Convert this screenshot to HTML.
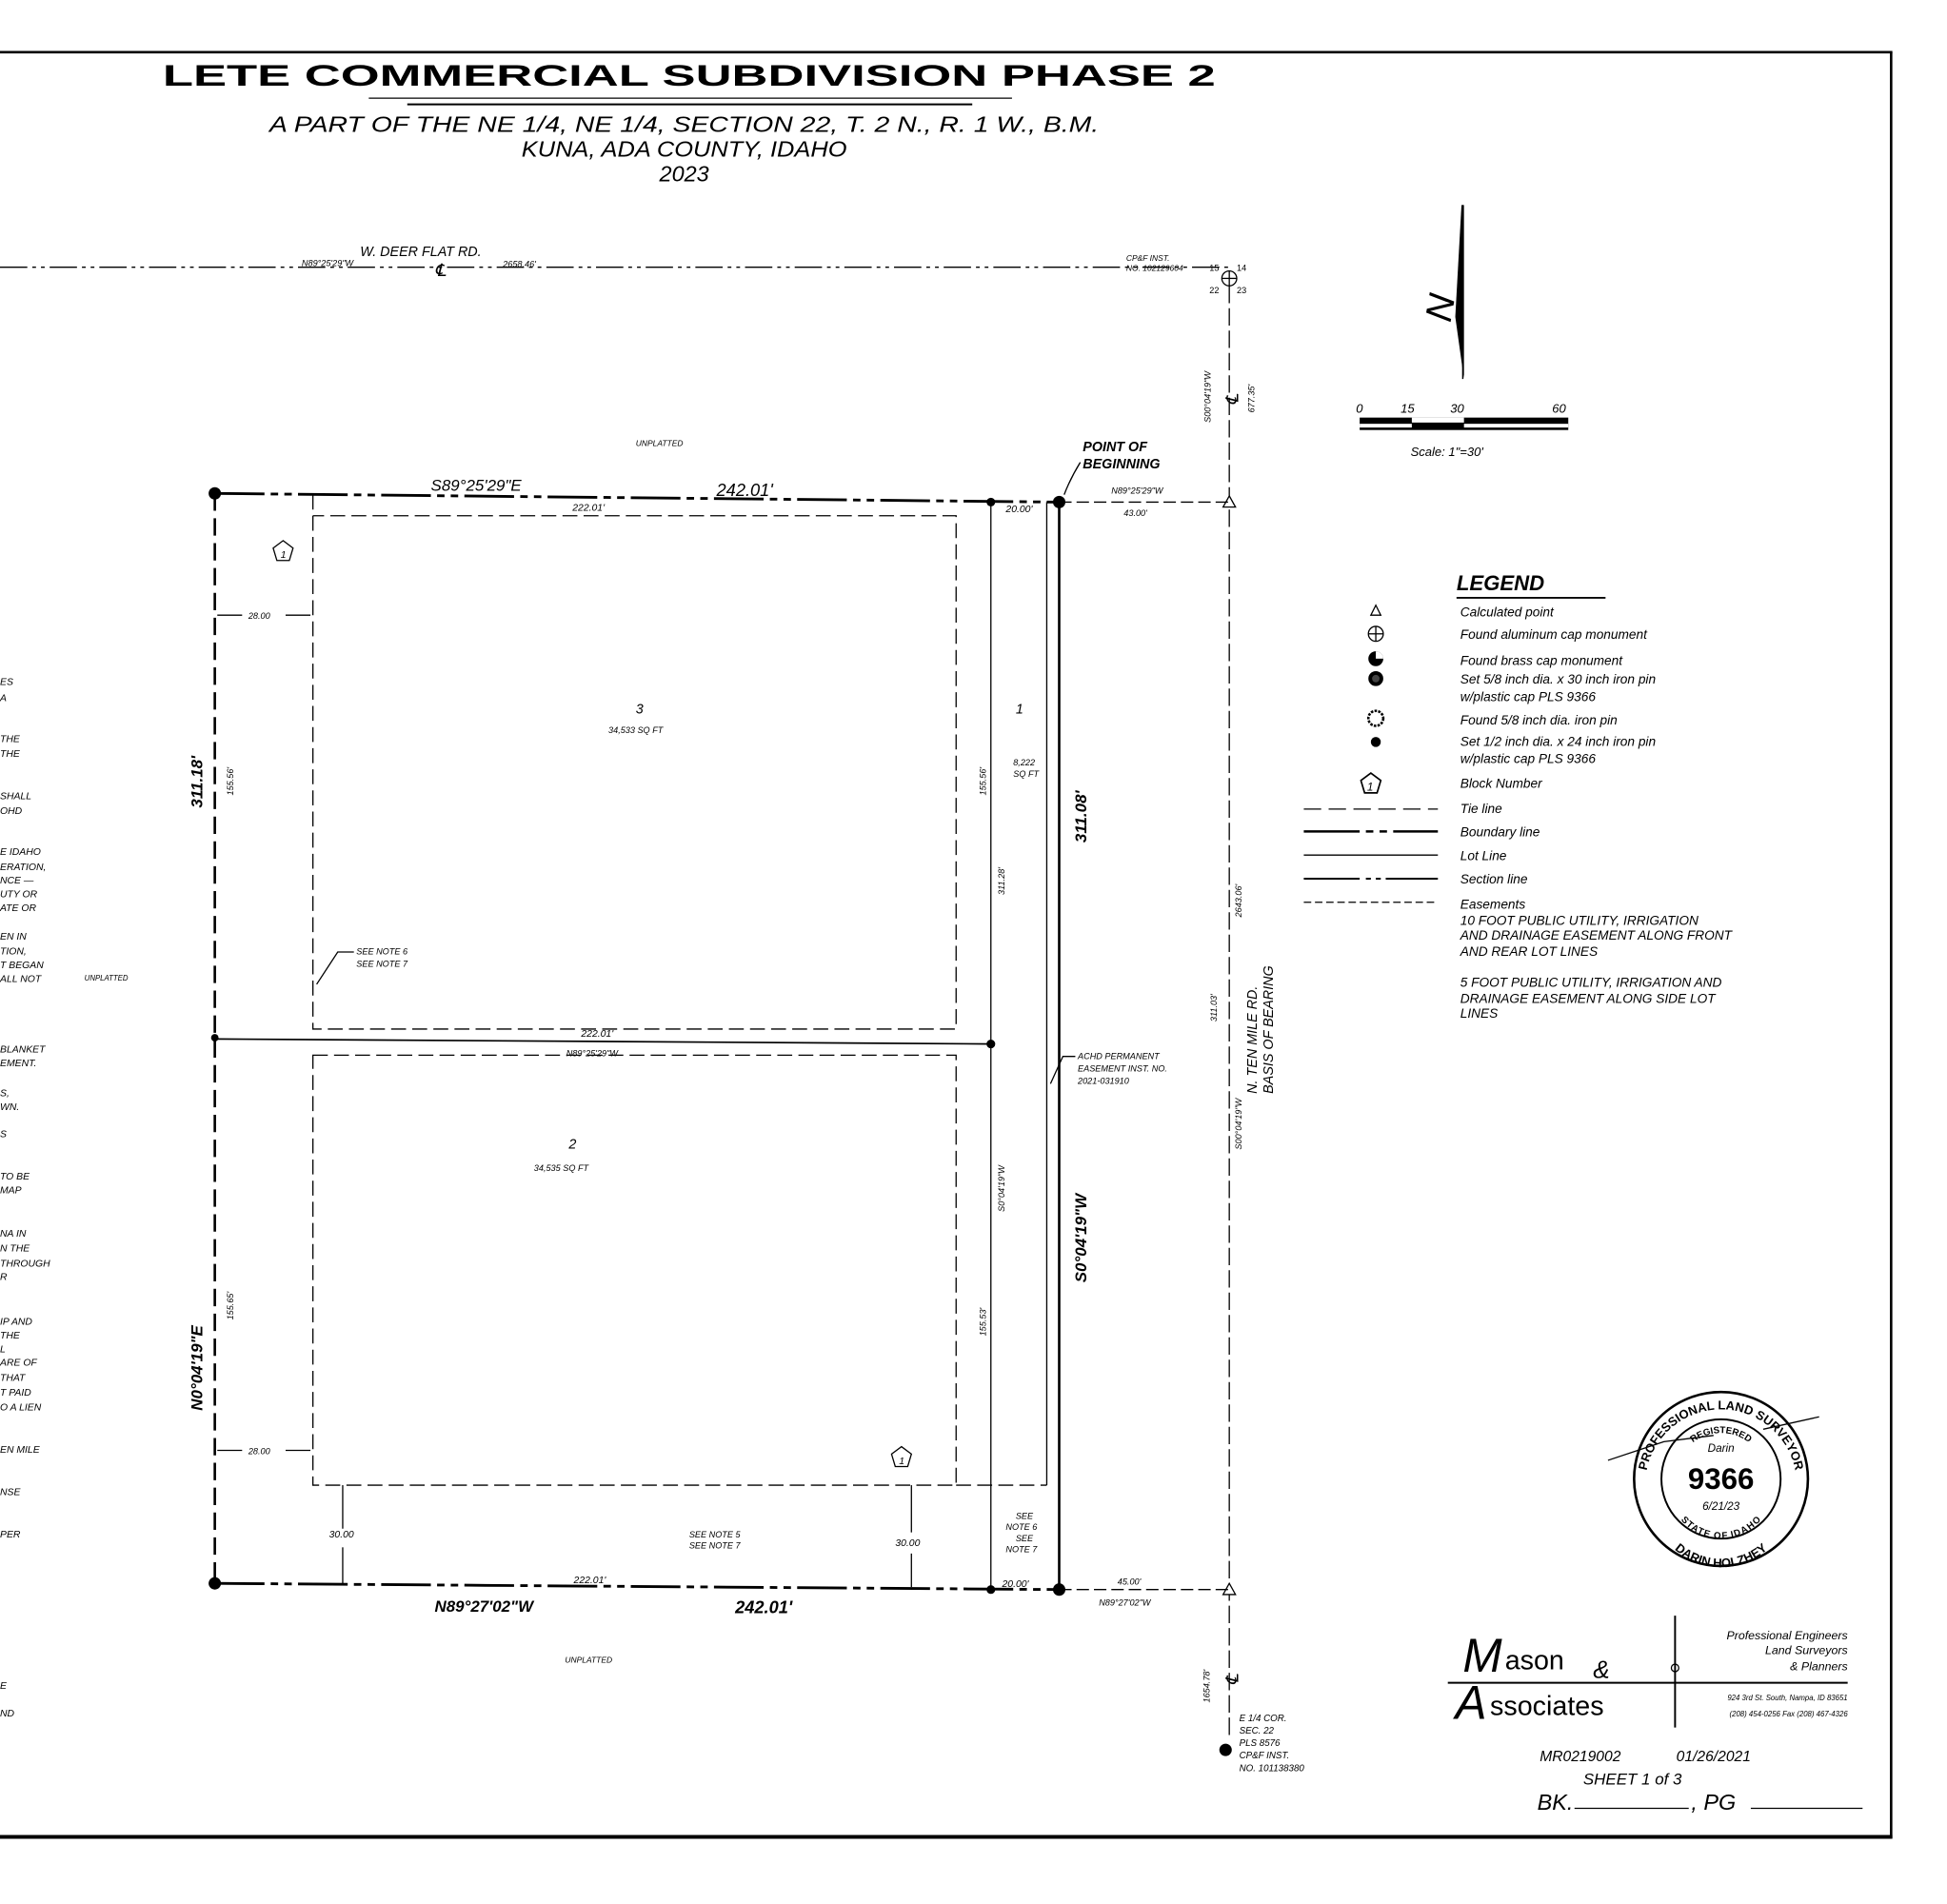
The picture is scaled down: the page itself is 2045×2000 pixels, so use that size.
<!DOCTYPE html>
<html><head><meta charset="utf-8"><style>
html,body{margin:0;padding:0;background:#fff;}
svg{display:block;}
text{font-family:"Liberation Sans",sans-serif;fill:#000;}
.i{font-style:italic;}
</style></head><body>
<svg width="2045" height="2000" viewBox="0 0 1568 1532" preserveAspectRatio="none" xmlns="http://www.w3.org/2000/svg">
<rect width="1600" height="1600" fill="#fff"/>
<!-- border -->
<line x1="0" y1="42" x2="1524" y2="42" stroke="#000" stroke-width="2"/>
<line x1="1523" y1="42" x2="1523" y2="1479" stroke="#000" stroke-width="2"/>
<line x1="0" y1="1478" x2="1524" y2="1478" stroke="#000" stroke-width="3"/>
<!-- title -->
<text x="555" y="69" font-size="24" font-weight="bold" text-anchor="middle" textLength="848" lengthAdjust="spacingAndGlyphs">LETE COMMERCIAL SUBDIVISION PHASE 2</text>
<line x1="297" y1="79" x2="815" y2="79" stroke="#000" stroke-width="1"/>
<line x1="328" y1="84" x2="783" y2="84" stroke="#000" stroke-width="1.5"/>
<g class="i" font-size="18" text-anchor="middle">
<text x="551" y="106" class="i" textLength="668" lengthAdjust="spacingAndGlyphs">A PART OF THE NE 1/4, NE 1/4, SECTION 22, T. 2 N., R. 1 W., B.M.</text>
<text x="551" y="126" class="i" textLength="262" lengthAdjust="spacingAndGlyphs">KUNA, ADA COUNTY, IDAHO</text>
<text x="551" y="146" class="i">2023</text>
</g>
<!-- road / section lines -->
<line x1="0" y1="215" x2="990" y2="215" stroke="#000" stroke-width="1" stroke-dasharray="22,4,3,4,3,4"/>
<text x="290" y="206" font-size="11" class="i">W. DEER FLAT RD.</text>
<text x="243" y="214" font-size="7" class="i">N89°25'29"W</text>
<text x="405" y="215" font-size="7" class="i">2658.46'</text>
<text x="350" y="222" font-size="14" class="i">℄</text>
<text x="907" y="210" font-size="6.5" class="i">CP&amp;F INST.</text>
<text x="907" y="218" font-size="6.5" class="i">NO. 102129604</text>
<text x="974" y="218" font-size="7">15</text><text x="996" y="218" font-size="7">14</text>
<text x="974" y="236" font-size="7">22</text><text x="996" y="236" font-size="7">23</text>
<circle cx="990" cy="224" r="6" fill="none" stroke="#000"/>
<line x1="984" y1="224" x2="996" y2="224" stroke="#000"/><line x1="990" y1="218" x2="990" y2="230" stroke="#000"/>
<line x1="990" y1="230" x2="990" y2="1400" stroke="#000" stroke-width="1" stroke-dasharray="14,4"/>
<text transform="translate(975,340) rotate(-90)" font-size="7" class="i">S00°04'19"W</text>
<text transform="translate(1010,332) rotate(-90)" font-size="7" class="i">677.35'</text>
<text transform="translate(997,326) rotate(-90)" font-size="14" class="i">℄</text>
<text transform="translate(1000,738) rotate(-90)" font-size="7" class="i">2643.06'</text>
<text transform="translate(980,822) rotate(-90)" font-size="7" class="i">311.03'</text>
<text transform="translate(1000,925) rotate(-90)" font-size="7" class="i">S00°04'19"W</text>
<text transform="translate(1012,880) rotate(-90)" font-size="11" class="i">N. TEN MILE RD.</text>
<text transform="translate(1025,880) rotate(-90)" font-size="11" class="i">BASIS OF BEARING</text>
<text transform="translate(974,1370) rotate(-90)" font-size="7" class="i">1654.78'</text>
<text transform="translate(997,1356) rotate(-90)" font-size="14" class="i">℄</text>
<!-- triangles -->
<polygon points="990,399 985,408 995,408" fill="#fff" stroke="#000"/>
<polygon points="990,1274 985,1283 995,1283" fill="#fff" stroke="#000"/>
<line x1="853" y1="404" x2="990" y2="404" stroke="#000" stroke-dasharray="10,4"/>
<line x1="853" y1="1279" x2="990" y2="1279" stroke="#000" stroke-dasharray="10,4"/>
<text x="895" y="397" font-size="7" class="i">N89°25'29"W</text>
<text x="905" y="415" font-size="7" class="i">43.00'</text>
<text x="900" y="1275" font-size="7" class="i">45.00'</text>
<text x="885" y="1292" font-size="7" class="i">N89°27'02"W</text>
<!-- boundary -->
<line x1="173" y1="397" x2="853" y2="404" stroke="#000" stroke-width="2.2" stroke-dasharray="40,5,6,5,6,5"/>
<line x1="173" y1="1274" x2="853" y2="1279" stroke="#000" stroke-width="2.2" stroke-dasharray="40,5,6,5,6,5"/>
<line x1="173" y1="397" x2="173" y2="1274" stroke="#000" stroke-width="2" stroke-dasharray="14,6"/>
<line x1="853" y1="404" x2="853" y2="1279" stroke="#000" stroke-width="2"/>
<line x1="798" y1="404" x2="798" y2="1279" stroke="#000" stroke-width="1"/>
<line x1="843" y1="404" x2="843" y2="1195" stroke="#000" stroke-width="1"/>
<line x1="173" y1="836" x2="798" y2="840" stroke="#000" stroke-width="1.3"/>
<!-- easements -->
<g fill="none" stroke="#000" stroke-width="1" stroke-dasharray="12,5">
<path d="M252,398 V828 H770 V415 H252"/>
<path d="M252,849 H770 V1195 H252 Z"/>
<line x1="770" y1="1195" x2="843" y2="1195"/>
</g>
<!-- points -->
<g fill="#000">
<circle cx="173" cy="397" r="5"/><circle cx="173" cy="1274" r="5"/>
<circle cx="853" cy="404" r="5"/><circle cx="853" cy="1279" r="5"/>
<circle cx="798" cy="404" r="3.5"/><circle cx="798" cy="840" r="3.5"/><circle cx="798" cy="1279" r="3.5"/>
<circle cx="173" cy="835" r="3"/>
</g>
<!-- labels -->
<text x="347" y="395" font-size="13" class="i">S89°25'29"E</text>
<text x="577" y="399" font-size="14" class="i">242.01'</text>
<text x="461" y="411" font-size="8" class="i">222.01'</text>
<text x="810" y="412" font-size="8" class="i">20.00'</text>
<text x="872" y="363" font-size="11" font-weight="bold" class="i">POINT OF</text>
<text x="872" y="377" font-size="11" font-weight="bold" class="i">BEGINNING</text>
<path d="M870,372 Q862,385 857,398" fill="none" stroke="#000"/>
<text x="512" y="359" font-size="6.5" class="i">UNPLATTED</text>
<polygon points="228,435 236,441 233,451 223,451 220,441" fill="none" stroke="#000"/>
<text x="226" y="449" font-size="8" class="i">1</text>
<polygon points="726,1164 734,1170 731,1180 721,1180 718,1170" fill="none" stroke="#000"/>
<text x="724" y="1178" font-size="8" class="i">1</text>
<text x="200" y="498" font-size="7" class="i">28.00</text>
<line x1="175" y1="495" x2="195" y2="495" stroke="#000"/><line x1="230" y1="495" x2="250" y2="495" stroke="#000"/>
<text x="200" y="1170" font-size="7" class="i">28.00</text>
<line x1="175" y1="1167" x2="195" y2="1167" stroke="#000"/><line x1="230" y1="1167" x2="250" y2="1167" stroke="#000"/>
<text transform="translate(163,650) rotate(-90)" font-size="13" font-weight="bold" class="i">311.18'</text>
<text transform="translate(188,640) rotate(-90)" font-size="7" class="i">155.56'</text>
<text transform="translate(163,1135) rotate(-90)" font-size="13" font-weight="bold" class="i">N0°04'19"E</text>
<text transform="translate(188,1062) rotate(-90)" font-size="7" class="i">155.65'</text>
<text x="512" y="574" font-size="11" class="i">3</text>
<text x="490" y="590" font-size="7" class="i">34,533 SQ FT</text>
<text x="458" y="924" font-size="11" class="i">2</text>
<text x="430" y="942" font-size="7" class="i">34,535 SQ FT</text>
<text x="818" y="574" font-size="11" class="i">1</text>
<text x="816" y="616" font-size="7" class="i">8,222</text>
<text x="816" y="625" font-size="7" class="i">SQ FT</text>
<text transform="translate(794,640) rotate(-90)" font-size="7" class="i">155.56'</text>
<text transform="translate(809,720) rotate(-90)" font-size="7" class="i">311.28'</text>
<text transform="translate(809,975) rotate(-90)" font-size="7" class="i">S0°04'19"W</text>
<text transform="translate(794,1075) rotate(-90)" font-size="7" class="i">155.53'</text>
<text transform="translate(875,678) rotate(-90)" font-size="13" font-weight="bold" class="i">311.08'</text>
<text transform="translate(875,1032) rotate(-90)" font-size="13" font-weight="bold" class="i">S0°04'19"W</text>
<text x="468" y="834" font-size="8" class="i">222.01'</text>
<text x="456" y="850" font-size="7" class="i">N89°25'29"W</text>
<text x="287" y="768" font-size="7" class="i">SEE NOTE 6</text>
<text x="287" y="778" font-size="7" class="i">SEE NOTE 7</text>
<path d="M285,766 L272,766 L255,792" fill="none" stroke="#000"/>
<text x="68" y="789" font-size="6" class="i">UNPLATTED</text>
<text x="868" y="852" font-size="7" class="i">ACHD PERMANENT</text>
<text x="868" y="862" font-size="7" class="i">EASEMENT INST. NO.</text>
<text x="868" y="872" font-size="7" class="i">2021-031910</text>
<path d="M866,850 L856,850 L846,872" fill="none" stroke="#000"/>
<text x="265" y="1237" font-size="8" class="i">30.00</text>
<line x1="276" y1="1195" x2="276" y2="1230" stroke="#000"/><line x1="276" y1="1245" x2="276" y2="1275" stroke="#000"/>
<text x="721" y="1244" font-size="8" class="i">30.00</text>
<line x1="734" y1="1195" x2="734" y2="1233" stroke="#000"/><line x1="734" y1="1250" x2="734" y2="1277" stroke="#000"/>
<text x="555" y="1237" font-size="7" class="i">SEE NOTE 5</text>
<text x="555" y="1246" font-size="7" class="i">SEE NOTE 7</text>
<text x="818" y="1222" font-size="7" class="i">SEE</text>
<text x="810" y="1231" font-size="7" class="i">NOTE 6</text>
<text x="818" y="1240" font-size="7" class="i">SEE</text>
<text x="810" y="1249" font-size="7" class="i">NOTE 7</text>
<text x="462" y="1274" font-size="8" class="i">222.01'</text>
<text x="807" y="1277" font-size="8" class="i">20.00'</text>
<text x="350" y="1297" font-size="13" font-weight="bold" class="i">N89°27'02"W</text>
<text x="592" y="1298" font-size="14" font-weight="bold" class="i">242.01'</text>
<text x="455" y="1338" font-size="6.5" class="i">UNPLATTED</text>
<circle cx="987" cy="1408" r="5" fill="#000"/>
<g font-size="7.5" class="i"><text x="998" y="1385">E 1/4 COR.</text><text x="998" y="1395">SEC. 22</text><text x="998" y="1405">PLS 8576</text><text x="998" y="1415">CP&amp;F INST.</text><text x="998" y="1425">NO. 101138380</text></g>
<!-- left edge note fragments -->
<g font-size="8" class="i">
<text x="0" y="551">ES</text><text x="0" y="564">A</text>
<text x="0" y="597">THE</text><text x="0" y="609">THE</text>
<text x="0" y="643">SHALL</text><text x="0" y="655">OHD</text>
<text x="0" y="688">E IDAHO</text><text x="0" y="700">ERATION,</text><text x="0" y="711">NCE —</text><text x="0" y="722">UTY OR</text><text x="0" y="733">ATE OR</text>
<text x="0" y="756">EN IN</text><text x="0" y="768">TION,</text><text x="0" y="779">T BEGAN</text><text x="0" y="790">ALL NOT</text>
<text x="0" y="847">BLANKET</text><text x="0" y="858">EMENT.</text>
<text x="0" y="882">S,</text><text x="0" y="893">WN.</text>
<text x="0" y="915">S</text>
<text x="0" y="949">TO BE</text><text x="0" y="960">MAP</text>
<text x="0" y="995">NA IN</text><text x="0" y="1007">N THE</text><text x="0" y="1019">THROUGH</text><text x="0" y="1030">R</text>
<text x="0" y="1066">IP AND</text><text x="0" y="1077">THE</text><text x="0" y="1088">L</text><text x="0" y="1099">ARE OF</text><text x="0" y="1111">THAT</text><text x="0" y="1123">T PAID</text><text x="0" y="1135">O A LIEN</text>
<text x="0" y="1169">EN MILE</text>
<text x="0" y="1203">NSE</text>
<text x="0" y="1237">PER</text>
<text x="0" y="1359">E</text><text x="0" y="1381">ND</text>
</g>
<!-- north arrow -->
<polygon points="1177,165 1179,165 1179,305 1172,255" fill="#000"/>
<line x1="1178" y1="165" x2="1178" y2="305" stroke="#000"/>
<text transform="translate(1168,260) rotate(-80)" font-size="30" class="i" font-family="Liberation Serif">N</text>
<!-- scale bar -->
<text x="1092" y="332" font-size="10" class="i">0</text>
<text x="1128" y="332" font-size="10" class="i">15</text>
<text x="1168" y="332" font-size="10" class="i">30</text>
<text x="1250" y="332" font-size="10" class="i">60</text>
<rect x="1095" y="336" width="168" height="10" fill="#000"/>
<rect x="1137" y="336" width="42" height="4" fill="#fff"/>
<rect x="1095" y="341" width="42" height="3" fill="#fff"/>
<rect x="1179" y="341" width="84" height="3" fill="#fff"/>
<text x="1136" y="367" font-size="10" class="i">Scale: 1"=30'</text>
<!-- legend -->
<text x="1173" y="475" font-size="17" font-weight="bold" class="i">LEGEND</text>
<line x1="1173" y1="481" x2="1293" y2="481" stroke="#000" stroke-width="1.5"/>
<polygon points="1108,487 1104,495 1112,495" fill="none" stroke="#000"/>
<circle cx="1108" cy="510" r="6" fill="none" stroke="#000"/><line x1="1102" y1="510" x2="1114" y2="510" stroke="#000"/><line x1="1108" y1="504" x2="1108" y2="516" stroke="#000"/>
<circle cx="1108" cy="530" r="6" fill="#000"/><path d="M1108,530 L1114,530 A6,6 0 0 0 1108,524 Z" fill="#fff"/>
<circle cx="1108" cy="546" r="6" fill="#000"/><circle cx="1108" cy="546" r="3" fill="#444"/>
<circle cx="1108" cy="578" r="6" fill="none" stroke="#000" stroke-width="2" stroke-dasharray="2,1"/>
<circle cx="1108" cy="597" r="4" fill="#000"/>
<polygon points="1104,622 1112,628 1109,638 1099,638 1096,628" fill="none" stroke="#000" stroke-width="1.3"/>
<text x="1101" y="636" font-size="9" class="i">1</text>
<line x1="1050" y1="651" x2="1158" y2="651" stroke="#000" stroke-dasharray="14,6"/>
<line x1="1050" y1="669" x2="1158" y2="669" stroke="#000" stroke-width="2" stroke-dasharray="45,5,6,5,6,5"/>
<line x1="1050" y1="688" x2="1158" y2="688" stroke="#000"/>
<line x1="1050" y1="707" x2="1158" y2="707" stroke="#000" stroke-width="1.5" stroke-dasharray="45,5,4,4,4,4"/>
<line x1="1050" y1="726" x2="1158" y2="726" stroke="#000" stroke-dasharray="6,3"/>
<g font-size="10.5" class="i">
<text x="1176" y="496">Calculated point</text>
<text x="1176" y="514">Found aluminum cap monument</text>
<text x="1176" y="535">Found brass cap monument</text>
<text x="1176" y="550">Set 5/8 inch dia. x 30 inch iron pin</text>
<text x="1176" y="564">w/plastic cap PLS 9366</text>
<text x="1176" y="583">Found 5/8 inch dia. iron pin</text>
<text x="1176" y="600">Set 1/2 inch dia. x 24 inch iron pin</text>
<text x="1176" y="614">w/plastic cap PLS 9366</text>
<text x="1176" y="634">Block Number</text>
<text x="1176" y="654">Tie line</text>
<text x="1176" y="673">Boundary line</text>
<text x="1176" y="692">Lot Line</text>
<text x="1176" y="711">Section line</text>
<text x="1176" y="731">Easements</text>
<text x="1176" y="744">10 FOOT PUBLIC UTILITY, IRRIGATION</text>
<text x="1176" y="756">AND DRAINAGE EASEMENT ALONG FRONT</text>
<text x="1176" y="769">AND REAR LOT LINES</text>
<text x="1176" y="794">5 FOOT PUBLIC UTILITY, IRRIGATION AND</text>
<text x="1176" y="807">DRAINAGE EASEMENT ALONG SIDE LOT</text>
<text x="1176" y="819">LINES</text>
</g>
<!-- stamp -->
<circle cx="1386" cy="1190" r="70" fill="none" stroke="#000" stroke-width="2"/>
<circle cx="1386" cy="1190" r="48" fill="none" stroke="#000" stroke-width="1.5"/>
<text x="1386" y="1198" font-size="24" font-weight="bold" text-anchor="middle">9366</text>
<text x="1386" y="1215" font-size="9" text-anchor="middle" class="i">6/21/23</text>
<text x="1386" y="1168" font-size="9" text-anchor="middle" class="i">Darin</text>
<path id="arcT" d="M1325,1195 A61,61 0 0 1 1447,1195" fill="none"/>
<text font-size="10" font-weight="bold"><textPath href="#arcT" startOffset="50%" text-anchor="middle">PROFESSIONAL LAND SURVEYOR</textPath></text>
<path id="arcB" d="M1330,1205 A56,56 0 0 0 1442,1205" fill="none"/>
<text font-size="10" font-weight="bold"><textPath href="#arcB" startOffset="50%" text-anchor="middle">DARIN HOLZHEY</textPath></text>
<path id="arcI" d="M1349,1190 A37,37 0 0 1 1423,1190" fill="none"/>
<text font-size="7.5" font-weight="bold"><textPath href="#arcI" startOffset="50%" text-anchor="middle">REGISTERED</textPath></text>
<path id="arcJ" d="M1351,1196 A35,35 0 0 0 1421,1196" fill="none"/>
<text font-size="7.5" font-weight="bold" dy="7"><textPath href="#arcJ" startOffset="50%" text-anchor="middle">STATE OF IDAHO</textPath></text>
<path d="M1295,1175 L1340,1160 L1380,1155 M1420,1150 L1465,1140" fill="none" stroke="#000"/>
<!-- logo -->
<text x="1178" y="1345" font-size="38" font-family="Liberation Serif" class="i" font-weight="normal">M</text>
<text x="1212" y="1343" font-size="22" font-family="Liberation Serif">ason</text>
<text x="1283" y="1350" font-size="20" font-family="Liberation Serif" class="i">&amp;</text>
<line x1="1166" y1="1354" x2="1488" y2="1354" stroke="#000" stroke-width="1.5"/>
<text x="1172" y="1383" font-size="38" font-family="Liberation Serif" class="i">A</text>
<text x="1200" y="1380" font-size="22" font-family="Liberation Serif">ssociates</text>
<line x1="1349" y1="1300" x2="1349" y2="1390" stroke="#000" stroke-width="1.5"/>
<circle cx="1349" cy="1342" r="3" fill="none" stroke="#000"/>
<g font-size="9.5" class="i" text-anchor="end">
<text x="1488" y="1319">Professional Engineers</text>
<text x="1488" y="1331">Land Surveyors</text>
<text x="1488" y="1344">&amp; Planners</text>
</g>
<g font-size="6" class="i" text-anchor="end">
<text x="1488" y="1368">924 3rd St. South, Nampa, ID 83651</text>
<text x="1488" y="1381">(208) 454-0256 Fax (208) 467-4326</text>
</g>
<text x="1240" y="1417" font-size="12" class="i">MR0219002</text>
<text x="1350" y="1417" font-size="12" class="i">01/26/2021</text>
<text x="1275" y="1436" font-size="13" class="i">SHEET 1 of 3</text>
<text x="1238" y="1456" font-size="18" class="i">BK.</text>
<line x1="1268" y1="1455" x2="1360" y2="1455" stroke="#000"/>
<text x="1362" y="1456" font-size="18" class="i">, PG</text>
<line x1="1410" y1="1455" x2="1500" y2="1455" stroke="#000"/>
</svg>
</body></html>
